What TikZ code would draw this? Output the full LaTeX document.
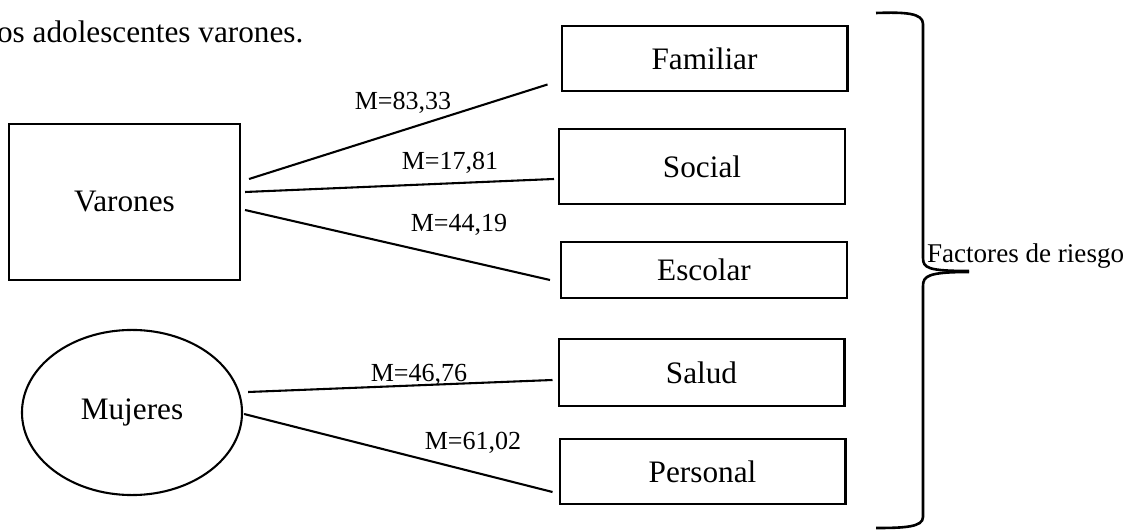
\documentclass[tikz,border=0pt]{standalone}
\usepackage{fontspec}
\setmainfont{Liberation Serif}
\usepackage{tikz}
\usetikzlibrary{positioning,shapes.geometric}
\newcommand{\boxFont}{\fontsize{12}{14}\selectfont}
\newcommand{\lblFont}{\fontsize{10}{12}\selectfont}

\begin{document}
\begin{tikzpicture}[x=0.384pt, y=-0.384pt, line width=0.8pt,
  grp/.style={draw, font=\boxFont, inner sep=0pt},
  factor/.style={draw, font=\boxFont, inner sep=0pt, minimum width=109.8pt},
  lbl/.style={font=\lblFont, inner sep=0pt},
  link/.style={line width=0.8pt}]
\useasboundingbox (0,0) rectangle (1127,531);
\node[font=\boxFont, anchor=base west, inner sep=0pt] (title) at (-4,43) {os adolescentes varones.};
% grupos
\node[grp, minimum width=88.7pt, minimum height=59.9pt] (varones) at (124.5,202) {Varones};
\node[grp, ellipse, minimum width=84.5pt, minimum height=63.4pt] (mujeres) at (132,412.5) {Mujeres};
% factores
\node[factor, minimum height=25.3pt] (familiar) at (704.5,58.5) {Familiar};
\node[factor, minimum height=28.8pt] (social) at (702,166.5) {Social};
\node[factor, minimum height=21.5pt] (escolar) at (704,270) {Escolar};
\node[factor, minimum height=25.7pt] (salud) at (701.5,372.5) {Salud};
\node[factor, minimum height=25pt] (personal) at (702.5,471.5) {Personal};
\foreach \a/\sa/\b/\sb in {varones/{8,-23}/familiar/{-13,26}, varones/{4,-10}/social/{-4,12.5},
  varones/{4,8}/escolar/{-10,10}, mujeres/{5,-20.5}/salud/{-5,7.5}, mujeres/{1,1.5}/personal/{-6,20.5}}
  \draw[link] ([shift={(\sa)}]\a.east) -- ([shift={(\sb)}]\b.west);
% medias
\node[lbl] (mFam) at (403,103) {M=83,33};
\node[lbl] (mSoc) at (450,163) {M=17,81};
\node[lbl] (mEsc) at (459,225) {M=44,19};
\node[lbl] (mSal) at (419,375) {M=46,76};
\node[lbl] (mPer) at (473,443) {M=61,02};
% llave
\draw[line width=1pt] (876,13) .. controls (905,12) and (923,13) .. (923,24) -- (923,258)
  .. controls (923,268) and (928,271) .. (969,271);
\draw[line width=1pt] (969,272) .. controls (928,272) and (923,276) .. (923,286) -- (923,517)
  .. controls (923,527) and (905,528) .. (876,528);
\node[font=\fontsize{10.4}{12.5}\selectfont, anchor=base west, inner sep=0pt] (riesgo) at (926,263) {Factores de riesgo};
\end{tikzpicture}
\end{document}
